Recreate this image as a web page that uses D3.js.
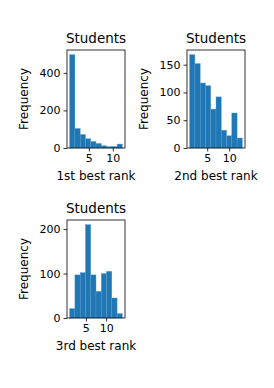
<!DOCTYPE html>
<html>
<head>
<meta charset="utf-8">
<script src="https://cdn.jsdelivr.net/npm/d3@7"></script>
<style>
  body { margin: 0; background: #fff; }
  svg { display: block; }
  text { font-family: "DejaVu Sans", sans-serif; fill: #000; }
</style>
</head>
<body>
<script>
// histogram counts, 10 bins each
var firstCounts = [497, 104, 72, 49, 35, 24, 12, 7, 8, 21];
var secondCounts = [168, 152, 117, 112, 70, 92, 32, 22, 63, 18];
var thirdCounts = [21, 97, 102, 210, 97, 60, 100, 105, 45, 10];

// rank range covered by the bins
var firstRange = [1, 12];
var secondRange = [1, 13];
var thirdRange = [1, 14];

var xTicks = [5, 10];
var firstYTicks = [0, 200, 400];
var secondYTicks = [0, 50, 100, 150];
var thirdYTicks = [0, 100, 200];

var labels = ["1st best rank", "2nd best rank", "3rd best rank"];
var title = "Students";

var W = 274, H = 388;
var svg = d3.select("body").append("svg")
    .attr("width", W)
    .attr("height", H);

// axes boxes (left, top, width, height)
var panels = [
    {counts: firstCounts, range: firstRange, yTicks: firstYTicks, label: labels[0], box: [67, 50, 58, 98]},
    {counts: secondCounts, range: secondRange, yTicks: secondYTicks, label: labels[1], box: [187, 50, 58, 98]},
    {counts: thirdCounts, range: thirdRange, yTicks: thirdYTicks, label: labels[2], box: [67, 220, 58, 98]}
];

panels.forEach(function (p) {
    var left = p.box[0], top = p.box[1], w = p.box[2], h = p.box[3];
    var lo = p.range[0], hi = p.range[1];
    var pad = (hi - lo) * 0.05;
    var n = p.counts.length;
    var binW = (hi - lo) / n;

    var x = d3.scaleLinear().domain([lo - pad, hi + pad]).range([0, w]);
    var y = d3.scaleLinear().domain([0, d3.max(p.counts) * 1.05]).range([h, 0]);

    var g = svg.append("g").attr("transform", "translate(" + left + "," + top + ")");

    g.selectAll("rect.bar")
        .data(p.counts)
        .enter().append("rect")
        .attr("class", "bar")
        .attr("x", (d, i) => x(lo + i * binW))
        .attr("width", (d, i) => x(lo + (i + 1) * binW) - x(lo + i * binW))
        .attr("y", d => y(d))
        .attr("height", d => h - y(d))
        .attr("fill", "#1f77b4")
        .attr("stroke", "#5a9bd0")
        .attr("stroke-width", 0.4);

    var xAxis = d3.axisBottom(x).tickValues(xTicks).tickSize(3.5).tickPadding(3);
    var yAxis = d3.axisLeft(y).tickValues(p.yTicks).tickSize(3.5).tickPadding(3);

    var gx = g.append("g").attr("transform", "translate(0," + h + ")").call(xAxis);
    var gy = g.append("g").call(yAxis);
    [gx, gy].forEach(function (a) {
        a.select(".domain").remove();
        a.selectAll("text").style("font-size", "11px").style("font-family", "DejaVu Sans, sans-serif");
        a.selectAll("line").attr("stroke", "#000").attr("stroke-width", 0.8);
    });

    // frame
    g.append("rect")
        .attr("width", w).attr("height", h)
        .attr("fill", "none").attr("stroke", "#000").attr("stroke-width", 0.8);

    g.append("text")
        .attr("x", w / 2).attr("y", -7)
        .attr("text-anchor", "middle")
        .style("font-size", "13.5px")
        .text(title);

    g.append("text")
        .attr("x", w / 2).attr("y", h + 32)
        .attr("text-anchor", "middle")
        .style("font-size", "12px")
        .text(p.label);

    g.append("text")
        .attr("transform", "translate(-39," + (h / 2) + ") rotate(-90)")
        .attr("text-anchor", "middle")
        .style("font-size", "12px")
        .text("Frequency");
});
</script>
</body>
</html>
